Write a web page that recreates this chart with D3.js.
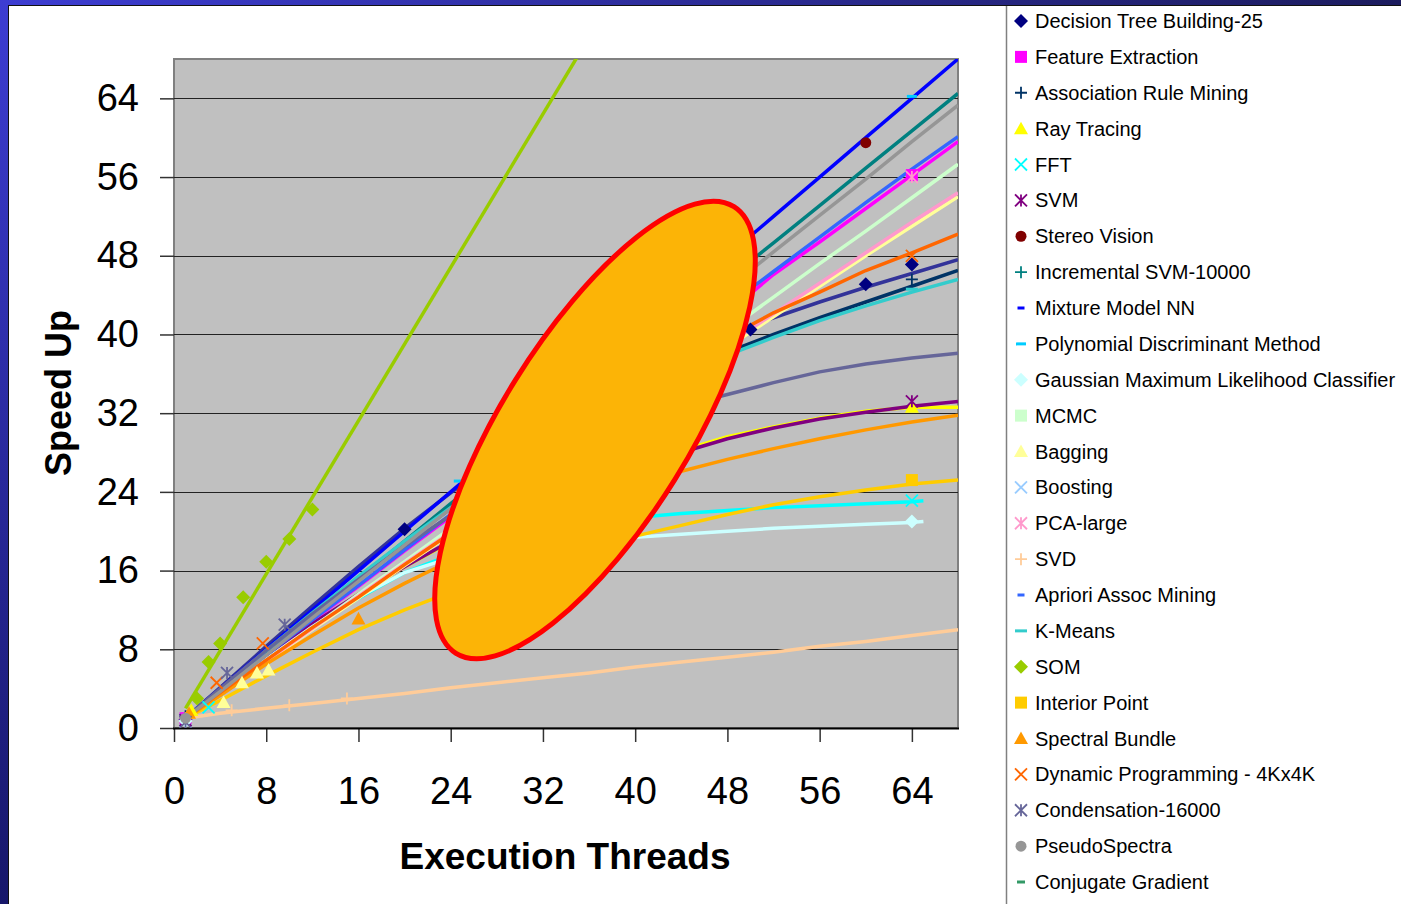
<!DOCTYPE html>
<html>
<head>
<meta charset="utf-8">
<script src="https://cdn.jsdelivr.net/npm/d3@7"></script>
<style>
  body { margin: 0; background: #fff; }
  svg { display: block; }
  text { font-family: "Liberation Sans", Arial, sans-serif; }
</style>
</head>
<body>
<svg id="canvas" width="1401" height="904"></svg>
<script>
// thread counts used by the line series
var threads = [1, 4, 8, 12, 16, 20, 24, 28, 32, 36, 40, 44, 48, 52, 56, 60, 64, 68];
var threadsShort = [1, 4, 8, 12, 16, 20, 24, 28, 32, 36, 40, 44, 48, 52, 56, 60, 64, 65];
var somThreads = [1, 36];

var yTicks = [0, 8, 16, 24, 32, 40, 48, 56, 64];
var xTicks = [0, 8, 16, 24, 32, 40, 48, 56, 64];

var names = ['Decision Tree Building-25', 'Feature Extraction', 'Association Rule Mining',
    'Ray Tracing', 'FFT', 'SVM', 'Stereo Vision', 'Incremental SVM-10000', 'Mixture Model NN',
    'Polynomial Discriminant Method', 'Gaussian Maximum Likelihood Classifier', 'MCMC',
    'Bagging', 'Boosting', 'PCA-large', 'SVD', 'Apriori Assoc Mining', 'K-Means', 'SOM',
    'Interior Point', 'Spectral Bundle', 'Dynamic Programming - 4Kx4K', 'Condensation-16000',
    'PseudoSpectra', 'Conjugate Gradient'];

var markerColors = ['#000080', '#FF00FF', '#003366', '#FFFF00', '#00FFFF', '#800080', '#800000',
    '#008080', '#0000FF', '#00CCFF', '#CCFFFF', '#CCFFCC', '#FFFF99', '#99CCFF', '#FF99CC',
    '#FFCC99', '#3366FF', '#33CCCC', '#99CC00', '#FFCC00', '#FF9900', '#FF6600', '#666699',
    '#969696', '#339966'];

var symbols = ['diamond', 'square', 'plus', 'triangle', 'x', 'star', 'circle', 'plus', 'dash',
    'dash', 'diamond', 'square', 'triangle', 'x', 'star', 'plus', 'dash', 'dash', 'diamond',
    'square', 'triangle', 'x', 'star', 'circle', 'dash'];

// speed up values of each line
var decisionTree = [1, 4.1, 8.3, 12.4, 16.4, 20.3, 23.9, 27.3, 30.5, 33.3, 35.8, 38.0, 40.0, 41.7, 43.3, 44.8, 46.2, 47.6];
var featureExtraction = [1, 3.7, 7.3, 10.9, 14.4, 18.0, 21.5, 25.0, 28.5, 32.0, 35.4, 38.9, 42.2, 46.1, 49.4, 52.8, 56.2, 59.6];
var assocRule = [1, 3.9, 7.8, 11.6, 15.3, 18.9, 22.3, 25.6, 28.6, 31.4, 34.0, 36.3, 38.2, 40.0, 41.7, 43.3, 44.9, 46.5];
var rayTracing = [1, 3.6, 7.2, 10.5, 13.6, 16.4, 18.9, 21.2, 23.3, 25.1, 26.7, 28.2, 29.6, 30.6, 31.5, 32.2, 32.6, 32.6];
var fft = [1, 3.5, 6.9, 10.2, 13.2, 15.8, 17.6, 18.8, 19.8, 20.6, 21.4, 21.8, 22.1, 22.4, 22.6, 22.8, 23.0, 23.1];
var svm = [1, 3.7, 7.3, 10.6, 13.6, 16.4, 19.0, 21.4, 23.4, 25.2, 26.7, 28.0, 29.4, 30.5, 31.4, 32.1, 32.7, 33.2];
var incSvm = [1, 3.8, 7.6, 11.4, 15.2, 19.0, 22.8, 26.6, 30.4, 34.2, 38.0, 41.8, 45.6, 49.3, 53.1, 56.9, 60.7, 64.5];
var mixtureNN = [1, 4, 8, 12, 16, 20, 24, 28, 32, 36, 40, 44, 48, 52, 56, 60, 64, 68];
var gaussian = [1, 3.5, 7.0, 10.3, 13.3, 15.8, 17.3, 18.0, 18.6, 19.1, 19.4, 19.7, 20.0, 20.3, 20.5, 20.7, 20.9, 21.0];
var mcmc = [1, 3.5, 6.9, 10.2, 13.6, 16.9, 20.3, 23.7, 27.0, 30.4, 33.7, 37.1, 40.4, 43.8, 47.2, 50.5, 53.9, 57.3];
var bagging = [1, 3.4, 6.7, 10.0, 13.2, 16.5, 19.7, 22.9, 26.1, 29.3, 32.5, 35.6, 38.7, 41.8, 44.9, 48.0, 51.0, 54.0];
var pcaLarge = [1, 3.5, 6.8, 10.1, 13.4, 16.7, 19.9, 23.1, 26.3, 29.5, 32.7, 35.8, 39.0, 42.1, 45.2, 48.3, 51.4, 54.4];
var svd = [1, 1.5, 2.0, 2.5, 3.0, 3.5, 4.1, 4.6, 5.1, 5.6, 6.2, 6.7, 7.2, 7.7, 8.3, 8.8, 9.4, 10.0];
var apriori = [1, 3.8, 7.4, 11.0, 14.5, 18.1, 21.7, 25.2, 28.8, 32.3, 35.8, 39.4, 42.9, 46.4, 49.9, 53.4, 56.8, 60.1];
var kMeans = [1, 3.9, 7.9, 11.7, 15.4, 19.0, 22.4, 25.5, 28.5, 31.2, 33.7, 35.9, 37.9, 39.7, 41.4, 42.9, 44.3, 45.6];
var som = [2.0, 70.2];
var interiorPoint = [1, 2.8, 5.3, 7.7, 10.0, 12.0, 13.8, 15.5, 17.0, 18.3, 19.5, 20.6, 21.7, 22.7, 23.5, 24.2, 24.8, 25.2];
var spectral = [1, 3.3, 6.5, 9.4, 12.2, 14.7, 17.0, 19.2, 21.2, 23.0, 24.6, 26.1, 27.3, 28.4, 29.4, 30.3, 31.1, 31.8];
var dynProg = [1, 3.6, 6.9, 10.2, 13.3, 16.6, 19.8, 23.0, 26.2, 29.4, 32.6, 36.0, 39.7, 42.2, 44.3, 46.5, 48.3, 50.2];
var condensation = [1, 4.0, 7.9, 11.6, 15.1, 18.5, 21.6, 24.4, 27.0, 29.3, 31.2, 32.7, 33.9, 35.1, 36.2, 37.0, 37.6, 38.1];
var pseudoSpectra = [1, 3.7, 7.4, 11.2, 14.9, 18.6, 22.3, 26.0, 29.8, 33.5, 37.2, 40.9, 44.6, 48.4, 52.1, 55.8, 59.6, 63.3];

// measured points shown with markers, [threads, speed up]
var decisionTreePts = [[1, 0.9], [20, 20.2], [50, 40.5], [60, 45.1], [64, 47.1]];
var featurePts = [[1, 1.0], [64, 56.2]];
var assocPts = [[1, 1.2], [64, 45.6]];
var rayPts = [[1.5, 1.8], [64, 32.6]];
var fftPts = [[1, 0.8], [3, 2.1], [64, 23.1]];
var svmPts = [[1, 0.8], [64, 33.2]];
var stereoPts = [[60, 59.5]];
var incSvmPts = [[1, 1.0]];
var polyPts = [[24.7, 25.1], [64, 64.2]];
var gaussianPts = [[1, 0.7], [64, 21.0]];
var baggingPts = [[4.3, 2.6], [5.9, 4.6], [7.2, 5.6], [8.2, 5.9]];
var pcaPts = [[64, 56.0]];
var svdPts = [[1, 1.0], [5, 1.8], [10, 2.3], [15, 3.0]];
var kMeansPts = [[64, 44.6]];
var somPts = [[2, 3.0], [3, 6.7], [4, 8.6], [6, 13.3], [8, 16.9], [10, 19.2], [12, 22.2]];
var interiorPts = [[64, 25.2]];
var spectralPts = [[1.3, 1.5], [16, 11.1]];
var dynProgPts = [[3.7, 4.6], [7.7, 8.6], [64, 48.0]];
var condensationPts = [[1, 0.6], [4.6, 5.6], [9.6, 10.5]];
var pseudoPts = [[1, 1.0]];

var lines = [
    { s: 0, x: threads, y: decisionTree, c: '#333399' },
    { s: 1, x: threads, y: featureExtraction, c: '#FF00FF' },
    { s: 2, x: threads, y: assocRule, c: '#003366' },
    { s: 3, x: threads, y: rayTracing, c: '#FFFF00' },
    { s: 4, x: threadsShort, y: fft, c: '#00FFFF' },
    { s: 5, x: threads, y: svm, c: '#800080' },
    { s: 7, x: threads, y: incSvm, c: '#008080' },
    { s: 8, x: threads, y: mixtureNN, c: '#0000FF' },
    { s: 10, x: threadsShort, y: gaussian, c: '#CCFFFF' },
    { s: 11, x: threads, y: mcmc, c: '#CCFFCC' },
    { s: 12, x: threads, y: bagging, c: '#FFFF99' },
    { s: 14, x: threads, y: pcaLarge, c: '#FF99CC' },
    { s: 15, x: threads, y: svd, c: '#FFCC99' },
    { s: 16, x: threads, y: apriori, c: '#3366FF' },
    { s: 17, x: threads, y: kMeans, c: '#33CCCC' },
    { s: 18, x: somThreads, y: som, c: '#99CC00' },
    { s: 19, x: threads, y: interiorPoint, c: '#FFCC00' },
    { s: 20, x: threads, y: spectral, c: '#FF9900' },
    { s: 21, x: threads, y: dynProg, c: '#FF6600' },
    { s: 22, x: threads, y: condensation, c: '#666699' },
    { s: 23, x: threads, y: pseudoSpectra, c: '#969696' }
];

var points = [
    { s: 0, p: decisionTreePts }, { s: 1, p: featurePts }, { s: 2, p: assocPts },
    { s: 3, p: rayPts }, { s: 4, p: fftPts }, { s: 5, p: svmPts }, { s: 6, p: stereoPts },
    { s: 7, p: incSvmPts }, { s: 9, p: polyPts }, { s: 10, p: gaussianPts },
    { s: 12, p: baggingPts }, { s: 14, p: pcaPts }, { s: 15, p: svdPts },
    { s: 17, p: kMeansPts }, { s: 18, p: somPts }, { s: 19, p: interiorPts },
    { s: 20, p: spectralPts }, { s: 21, p: dynProgPts }, { s: 22, p: condensationPts },
    { s: 23, p: pseudoPts }
];

var svg = d3.select('#canvas');
var x = d3.scaleLinear().domain([0, 68]).range([174, 958]);
var y = d3.scaleLinear().domain([0, 68]).range([728, 59]);

function symbolPath(type, s, w) {
    // excel style marker shapes
    if (type === 'diamond') return 'M0,' + (-s) + 'L' + s + ',0L0,' + s + 'L' + (-s) + ',0Z';
    if (type === 'square') return 'M' + (-s) + ',' + (-s) + 'h' + 2 * s + 'v' + 2 * s + 'h' + (-2 * s) + 'Z';
    if (type === 'triangle') return 'M0,' + (-s) + 'L' + s + ',' + s * 0.8 + 'L' + (-s) + ',' + s * 0.8 + 'Z';
    if (type === 'circle') return 'M' + (-s) + ',0A' + s + ',' + s + ' 0 1,1 ' + s + ',0A' + s + ',' + s + ' 0 1,1 ' + (-s) + ',0Z';
    if (type === 'dash') return 'M' + (-w) + ',-1.5h' + 2 * w + 'v3h' + (-2 * w) + 'Z';
    if (type === 'plus') return 'M' + (-s) + ',0H' + s + 'M0,' + (-s) + 'V' + s;
    if (type === 'x') return 'M' + (-s) + ',' + (-s) + 'L' + s + ',' + s + 'M' + (-s) + ',' + s + 'L' + s + ',' + (-s);
    return 'M' + (-s) + ',' + (-s) + 'L' + s + ',' + s + 'M' + (-s) + ',' + s + 'L' + s + ',' + (-s) + 'M0,' + (-s) + 'V' + s;
}

function isStroked(type) {
    return type === 'plus' || type === 'x' || type === 'star';
}

function markerSize(type) {
    if (type === 'diamond') return 7;
    if (type === 'triangle') return 7;
    if (type === 'circle') return 5.5;
    return 6;
}

function drawMarker(g, i) {
    var t = symbols[i];
    var dashW = { 8: 3.5, 9: 5, 16: 3.5, 17: 6, 24: 4 }[i] || 4;
    g.append('path')
        .attr('d', symbolPath(t, markerSize(t), dashW))
        .attr('fill', isStroked(t) ? 'none' : markerColors[i])
        .attr('stroke', isStroked(t) ? markerColors[i] : 'none')
        .attr('stroke-width', 1.8);
}

// frame: blue slide border, white chart area and legend panel
var defs = svg.append('defs');
var gl = defs.append('linearGradient').attr('id', 'leftGrad').attr('x1', 0).attr('y1', 0).attr('x2', 0).attr('y2', 1);
gl.append('stop').attr('offset', '0%').attr('stop-color', '#3d3dd2');
gl.append('stop').attr('offset', '100%').attr('stop-color', '#17176a');
var gt = defs.append('linearGradient').attr('id', 'topGrad').attr('x1', 0).attr('y1', 0).attr('x2', 1).attr('y2', 0);
gt.append('stop').attr('offset', '0%').attr('stop-color', '#3d3dd2');
gt.append('stop').attr('offset', '100%').attr('stop-color', '#1c1c5e');
defs.append('clipPath').attr('id', 'plotClip')
    .append('rect').attr('x', 174).attr('y', 59).attr('width', 784).attr('height', 669);

svg.append('rect').attr('width', 1401).attr('height', 904).attr('fill', '#fff');
svg.append('rect').attr('width', 1401).attr('height', 5).attr('fill', 'url(#topGrad)');
svg.append('rect').attr('width', 8).attr('height', 904).attr('fill', 'url(#leftGrad)');
svg.append('line').attr('x1', 8).attr('x2', 1401).attr('y1', 5.5).attr('y2', 5.5).attr('stroke', '#111').attr('stroke-width', 1);
svg.append('line').attr('x1', 8.5).attr('x2', 8.5).attr('y1', 5).attr('y2', 904).attr('stroke', '#111').attr('stroke-width', 1);
svg.append('line').attr('x1', 1006.5).attr('x2', 1006.5).attr('y1', 6).attr('y2', 904).attr('stroke', '#808080').attr('stroke-width', 1.5);

// plot area
svg.append('rect')
    .attr('x', 174).attr('y', 59).attr('width', 784).attr('height', 669)
    .attr('fill', '#C0C0C0').attr('stroke', '#808080').attr('stroke-width', 2);

svg.append('g').selectAll('line')
    .data(yTicks.slice(1))
    .enter().append('line')
    .attr('x1', 174).attr('x2', 958)
    .attr('y1', function(d) { return Math.round(y(d)) + 0.5; })
    .attr('y2', function(d) { return Math.round(y(d)) + 0.5; })
    .attr('stroke', '#222').attr('stroke-width', 1);

var yAxis = svg.append('g')
    .attr('transform', 'translate(174,0)')
    .call(d3.axisLeft(y).tickValues(yTicks).tickSize(14).tickPadding(21));
var xAxis = svg.append('g')
    .attr('transform', 'translate(0,728)')
    .call(d3.axisBottom(x).tickValues(xTicks).tickSize(14).tickPadding(35));

[yAxis, xAxis].forEach(function(a) {
    a.select('.domain').remove();
    a.selectAll('.tick line').attr('stroke', '#333').attr('stroke-width', 1.5);
    a.selectAll('.tick text').attr('font-size', 38).attr('fill', '#000')
        .style('font-family', '"Liberation Sans", Arial, sans-serif');
});

svg.append('line').attr('x1', 173).attr('x2', 959).attr('y1', 728.5).attr('y2', 728.5)
    .attr('stroke', '#000').attr('stroke-width', 2);

// series lines
var plot = svg.append('g').attr('clip-path', 'url(#plotClip)');
var line = d3.line()
    .x(function(d) { return x(d[0]); })
    .y(function(d) { return y(d[1]); });

plot.selectAll('path.series')
    .data(lines)
    .enter().append('path')
    .attr('class', 'series')
    .attr('d', function(d) {
        return line(d.x.map(function(t, k) { return [t, d.y[k]]; }));
    })
    .attr('fill', 'none')
    .attr('stroke', function(d) { return d.c; })
    .attr('stroke-width', 3.5)
    .attr('stroke-linejoin', 'round');

// markers
points.forEach(function(ser) {
    ser.p.forEach(function(pt) {
        var g = plot.append('g').attr('transform', 'translate(' + x(pt[0]) + ',' + y(pt[1]) + ')');
        drawMarker(g, ser.s);
    });
});

// annotation ellipse over the middle of the chart
svg.append('ellipse')
    .attr('cx', 0).attr('cy', 0).attr('rx', 263).attr('ry', 94)
    .attr('transform', 'translate(595,430) rotate(-58.1)')
    .attr('fill', '#FCB406').attr('stroke', '#FF0000').attr('stroke-width', 5);

// axis titles
svg.append('text')
    .attr('x', 565).attr('y', 869)
    .attr('text-anchor', 'middle')
    .attr('font-size', 37).attr('font-weight', 'bold')
    .text('Execution Threads');
svg.append('text')
    .attr('transform', 'translate(71,393) rotate(-90)')
    .attr('text-anchor', 'middle')
    .attr('font-size', 36).attr('font-weight', 'bold')
    .text('Speed Up');

// legend
var legend = svg.append('g');
names.forEach(function(n, i) {
    var cy = 21 + i * 35.875;
    var g = legend.append('g').attr('transform', 'translate(1021,' + cy + ')');
    drawMarker(g, i);
    legend.append('text')
        .attr('x', 1035).attr('y', cy + 7)
        .attr('font-size', 20).attr('fill', '#000')
        .text(n);
});
</script>
</body>
</html>
